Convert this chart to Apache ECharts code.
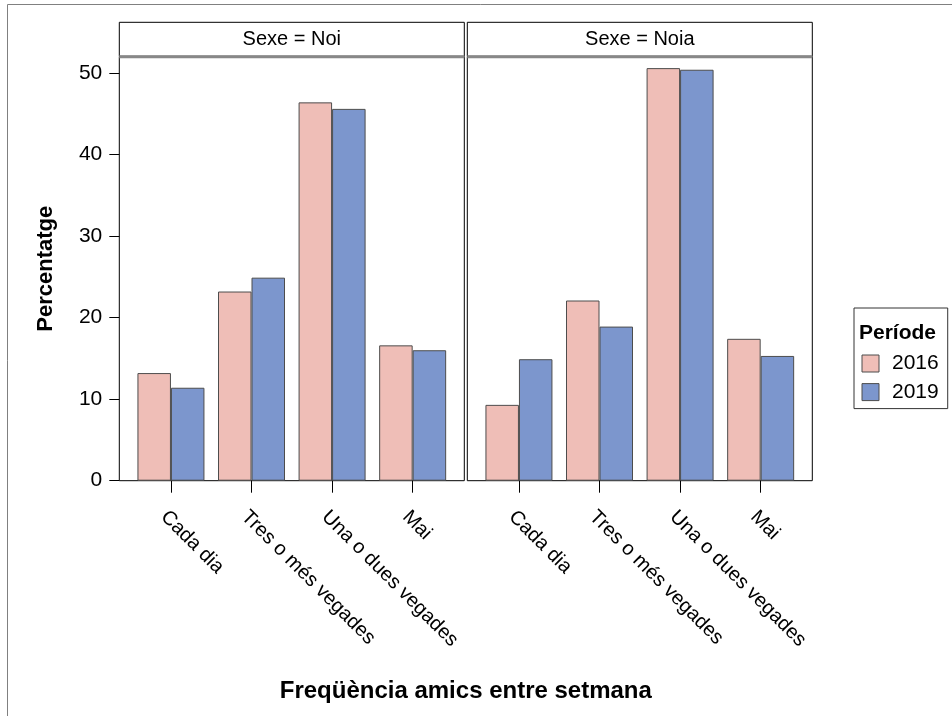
<!DOCTYPE html>
<html>
<head>
<meta charset="utf-8">
<script src="https://cdn.jsdelivr.net/npm/echarts@6/dist/echarts.min.js"></script>
<style>
html,body{margin:0;padding:0;background:#fff;}
#c{width:952px;height:716px;}
</style>
</head>
<body>
<div id="c"></div>
<script>
// ---- data ----
var categories = ['Cada dia', 'Tres o més vegades', 'Una o dues vegades', 'Mai'];
var panels = ['Sexe = Noi', 'Sexe = Noia'];
var noi2016 = [13.2, 23.2, 46.4, 16.6];
var noi2019 = [11.4, 24.9, 45.6, 16.0];
var noia2016 = [9.3, 22.1, 50.6, 17.4];
var noia2019 = [14.9, 18.9, 50.4, 15.3];
var yTicks = [0, 10, 20, 30, 40, 50];
var seriesNames = ['2016', '2019'];

var FONT = 'Liberation Sans, Arial, sans-serif';
var COL16 = '#EFBEB7';
var COL19 = '#7C96CD';
var EDGE = '#4d4d4d';

var panelLeft = [119.3, 467.3];
var panelW = 345;
var plotTop = 56.7;
var plotBottom = 480.7;
var pad = 11.35;

var chart = echarts.init(document.getElementById('c'), null, {renderer: 'canvas'});

var grids = [], xAxes = [], yAxes = [];
// data grids 0,1
for (var p = 0; p < 2; p++) {
  grids.push({left: panelLeft[p] + pad, top: plotTop, width: panelW - 2 * pad, height: plotBottom - plotTop, show: false, containLabel: false});
  xAxes.push({
    type: 'category', gridIndex: p, data: categories,
    axisLine: {show: false},
    axisTick: {show: true, alignWithLabel: true, length: 12, lineStyle: {color: '#000', width: 1}},
    axisLabel: {rotate: -45, margin: 26, align: 'left', verticalAlign: 'top', interval: 0,
      fontFamily: FONT, fontSize: 20, color: '#000'},
    splitLine: {show: false}
  });
  yAxes.push({
    type: 'value', gridIndex: p, min: 0, max: 52, interval: 10, offset: pad,
    axisLine: {show: false},
    axisTick: {show: p === 0, length: 10, lineStyle: {color: '#000'}, customValues: yTicks},
    axisLabel: {show: p === 0, margin: 17, fontFamily: FONT, fontSize: 21, color: '#000', customValues: yTicks},
    splitLine: {show: false},
    name: p === 0 ? 'Percentatge' : '',
    nameLocation: 'middle', nameGap: 62, nameRotate: 90,
    nameTextStyle: {fontFamily: FONT, fontSize: 22, fontWeight: 'bold', color: '#000'}
  });
}
// border grids 2,3 and strip grids 4,5
for (var p = 0; p < 2; p++) {
  grids.push({left: panelLeft[p], top: plotTop, width: panelW, height: plotBottom - plotTop, show: true, borderColor: '#000', borderWidth: 1, backgroundColor: 'transparent'});
}
for (var p = 0; p < 2; p++) {
  grids.push({left: panelLeft[p], top: 22.3, width: panelW, height: 34, show: true, borderColor: '#000', borderWidth: 1, backgroundColor: 'transparent'});
}
for (var g = 2; g < 6; g++) {
  xAxes.push({type: 'value', gridIndex: g, show: false});
  yAxes.push({type: 'value', gridIndex: g, show: false});
}

function barSeries(name, data, idx, color) {
  return {
    name: name, type: 'bar', xAxisIndex: idx, yAxisIndex: idx, data: data,
    barWidth: 33.5, barGap: '0%',
    itemStyle: {color: color, borderColor: EDGE, borderWidth: 1},
    emphasis: {disabled: true}
  };
}

var graphics = [
  {type: 'rect', shape: {x: 7.5, y: 4.5, width: 1000, height: 800}, style: {fill: 'none', stroke: '#808080', lineWidth: 1}, silent: true, z: 0},
  {type: 'rect', shape: {x: panelLeft[0], y: 55.3, width: panelW, height: 3}, style: {fill: '#888'}, z: 10},
  {type: 'rect', shape: {x: panelLeft[1], y: 55.3, width: panelW, height: 3}, style: {fill: '#888'}, z: 10},
  {type: 'text', style: {text: panels[0], x: panelLeft[0] + panelW / 2, y: 39.5, textAlign: 'center', textVerticalAlign: 'middle', font: '20px ' + FONT, fill: '#000'}, z: 10},
  {type: 'text', style: {text: panels[1], x: panelLeft[1] + panelW / 2, y: 39.5, textAlign: 'center', textVerticalAlign: 'middle', font: '20px ' + FONT, fill: '#000'}, z: 10},
  {type: 'text', style: {text: 'Freqüència amics entre setmana', x: 465.8, y: 691, textAlign: 'center', textVerticalAlign: 'middle', font: 'bold 24px ' + FONT, fill: '#000'}, z: 10},
  {type: 'text', style: {text: 'Període', x: 859, y: 333, textAlign: 'left', textVerticalAlign: 'middle', font: 'bold 21px ' + FONT, fill: '#000'}, z: 10}
];

chart.setOption({
  animation: false,
  backgroundColor: '#fff',
  grid: grids,
  xAxis: xAxes,
  yAxis: yAxes,
  legend: {
    data: seriesNames,
    orient: 'vertical', left: 854, top: 308,
    padding: [45, 9, 6, 7.5],
    itemWidth: 17, itemHeight: 17, itemGap: 7.6,
    borderColor: '#333', borderWidth: 1,
    icon: 'rect',
    selectedMode: false,
    textStyle: {fontFamily: FONT, fontSize: 21, color: '#000', lineHeight: 17, padding: [0, 0, 0, 8]},
    itemStyle: {borderColor: EDGE, borderWidth: 1}
  },
  graphic: graphics,
  series: [
    barSeries(seriesNames[0], noi2016, 0, COL16),
    barSeries(seriesNames[1], noi2019, 0, COL19),
    barSeries(seriesNames[0], noia2016, 1, COL16),
    barSeries(seriesNames[1], noia2019, 1, COL19)
  ]
});
</script>
</body>
</html>
